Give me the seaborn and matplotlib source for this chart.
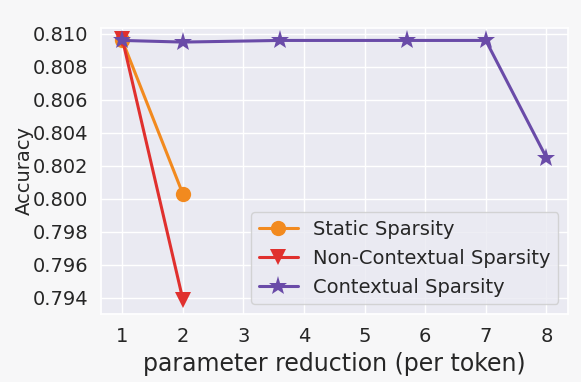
import matplotlib
matplotlib.use("Agg")
import matplotlib.pyplot as plt
import seaborn as sns
import pandas as pd

# values
static_x = [1, 2]
static_acc = [0.8096, 0.8003]

noncontext_x = [1, 2]
noncontext_acc = [0.8097, 0.7939]

context_x = [1, 2, 3.6, 5.7, 7, 8]
context_acc = [0.8096, 0.8095, 0.8096, 0.8096, 0.8096, 0.8025]

x_ticks = [1, 2, 3, 4, 5, 6, 7, 8]
y_ticks = [0.794, 0.796, 0.798, 0.800, 0.802, 0.804, 0.806, 0.808, 0.810]

sns.set_theme(style="darkgrid")

fig = plt.figure(figsize=(5.81, 3.82), dpi=100, facecolor="#f7f7f8")
ax = fig.add_axes([0.174, 0.178, 0.804, 0.749])

series = [
    ("Static Sparsity", static_x, static_acc, "#f28a1f", "o", 11),
    ("Non-Contextual Sparsity", noncontext_x, noncontext_acc, "#e0302e", "v", 11),
    ("Contextual Sparsity", context_x, context_acc, "#6a4ba8", "*", 14),
]

for name, xs, ys, color, marker, ms in series:
    df = pd.DataFrame({"x": xs, "acc": ys})
    sns.lineplot(data=df, x="x", y="acc", ax=ax, color=color, marker=marker,
                 markersize=ms, linewidth=2.2, markeredgewidth=0, label=name)

ax.set_xlim(0.65, 8.36)
ax.set_ylim(0.79303, 0.81036)
ax.set_xticks(x_ticks)
ax.set_yticks(y_ticks)
ax.set_yticklabels([f"{v:.3f}" for v in y_ticks])
ax.tick_params(labelsize=14)
ax.set_xlabel("parameter reduction (per token)", fontsize=17)
ax.set_ylabel("Accuracy", fontsize=14, labelpad=-1)
ax.legend(loc="lower right", fontsize=14)

fig.savefig("out.png", dpi=100, facecolor=fig.get_facecolor())
